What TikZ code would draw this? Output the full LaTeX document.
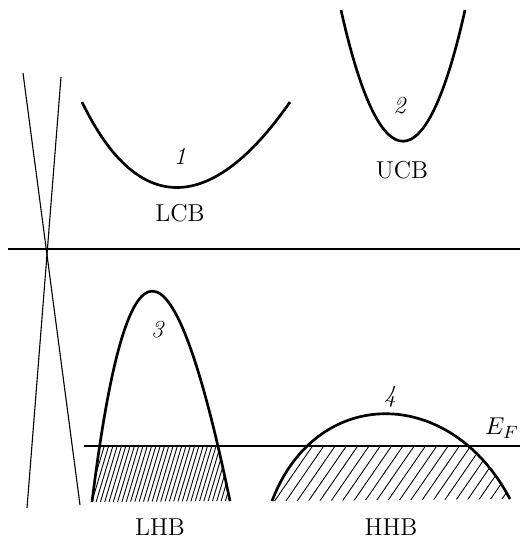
\documentclass[tikz,border=0pt]{standalone}
\usepackage{amsmath}
\usepackage{tikz}
\usetikzlibrary{positioning}

\begin{document}
\begin{tikzpicture}[x=0.45pt, y=-0.45pt, font=\fontsize{11}{13}\selectfont,
    band/.style={line width=1.2pt},
    thin/.style={line width=0.5pt},
    hatch/.style={line width=0.4pt}]
    \useasboundingbox (0,0) rectangle (520,540);
    % axes and Fermi level
    \draw[thin] (8,249) -- (520,249);
    \draw[thin] (23,73) -- (80,505);
    \draw[thin] (61,77) -- (27,508);
    \draw[thin] (84,446) -- (520,446);
    % conduction bands
    \draw[band] (82,102) .. controls (138,218) and (212,214) .. (290,102);
    \draw[band] (341,10) .. controls (380,185) and (426,185) .. (465,10);
    % Hubbard bands
    \def\lhb{(92,502) .. controls (127,220) and (172,222) .. (230,501)}
    \def\hhb{(272,501) .. controls (316,385) and (450,385) .. (510,499)}
    \begin{scope}
      \clip (0,446) rectangle (520,502);
      \clip \lhb -- cycle;
      \foreach \x in {70,74.3,...,240} {
        \draw[hatch] (\x,503) -- ++(17.4,-58);
      }
    \end{scope}
    \begin{scope}
      \clip (0,446) rectangle (520,502);
      \clip \hhb -- cycle;
      \foreach \x in {228,239.3,...,520} {
        \draw[hatch] (\x,503) -- ++(40,-58);
      }
    \end{scope}
    \draw[band] \lhb;
    \draw[band] \hhb;
    % labels
    \node (n1) at (180,156) {\textit{1}};
    \node (n2) at (400,106) {\textit{2}};
    \node (n3) at (158,330) {\textit{3}};
    \node (n4) at (390,397) {\textit{4}};
    \node (lcb) at (180,213) {LCB};
    \node (ucb) at (402,170) {UCB};
    \node (lhb) at (160,527) {LHB};
    \node (hhb) at (391,527) {HHB};
    \node (ef) at (502,428) {$E_F$};
  \end{tikzpicture}
\end{document}
